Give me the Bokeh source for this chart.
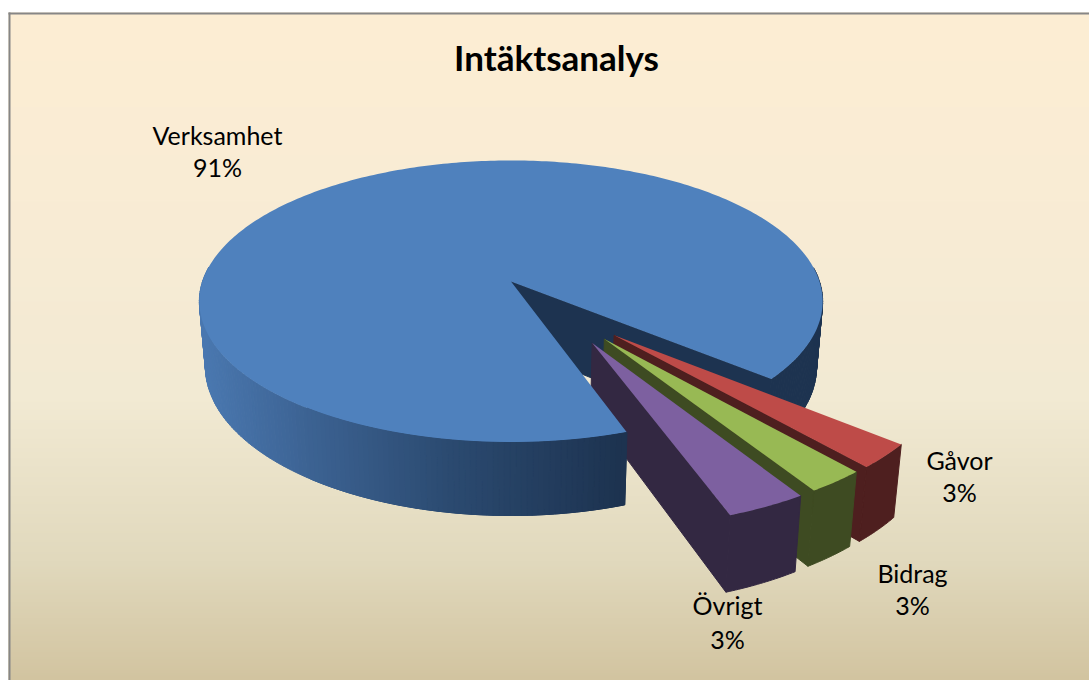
import numpy as np
from bokeh.plotting import figure
from bokeh.models import Range1d
from bokeh.core.properties import value
from bokeh.embed import file_html
from bokeh.resources import INLINE

# ---- data ----
title = "Intäktsanalys"
exploded_names = ["Gåvor", "Bidrag", "Övrigt"]
exploded_shares = [2.64, 2.53, 3.47]
main_name = "Verksamhet"
main_share = 91.36
percent_labels = {"Gåvor": "3%", "Bidrag": "3%", "Övrigt": "3%", "Verksamhet": "91%"}

# ---- styles ----
top_colors = ["#BE4B48", "#98B954", "#7D60A0"]
wall_colors = ["#4E1F1F", "#3E4B22", "#332842"]
main_top = "#4F81BD"
main_dark = "#1D3350"
FONT = "Lato"

# ---- projection (perspective view of a unit disc) ----
CX, K = 510.5, 0.1418
TOP = dict(y0=281.0, a=308.5, b=138.2)
LOW = dict(y0=345.0, a=302.5, b=145.9)
START = 39.9
EXPLODE = 0.486
EXPL_MID = 54.0

def proj(X, Y, pl):
    X, Y = np.asarray(X, float), np.asarray(Y, float)
    w = 1 - K * Y
    return CX + pl["a"] * X / w, pl["y0"] + pl["b"] * Y / w

def rim(a0, a1, n=160):
    t = np.radians(np.linspace(a0, a1, n))
    return np.cos(t), np.sin(t)

def lerp_color(x, stops):
    xs = [s[0] for s in stops]
    r = np.interp(x, xs, [s[1][0] for s in stops])
    g = np.interp(x, xs, [s[1][1] for s in stops])
    b = np.interp(x, xs, [s[1][2] for s in stops])
    return "#%02x%02x%02x" % (int(r), int(g), int(b))

p = figure(width=1089, height=680, output_backend="svg", toolbar_location=None,
           x_range=Range1d(0, 1089), y_range=Range1d(680, 0), min_border=0,
           background_fill_color="white", border_fill_color="white")
p.axis.visible = False
p.grid.visible = False
p.outline_line_color = None

# ---- background gradient ----
bg_stops = [(12, (253, 238, 211)), (200, (249, 236, 213)), (400, (242, 234, 211)),
            (560, (225, 217, 189)), (680, (210, 196, 160))]
rows = np.arange(12, 680)
p.quad(left=8, right=1089, top=rows, bottom=rows + 1.6,
       fill_color=[lerp_color(r, bg_stops) for r in rows], line_color=None)
p.quad(left=[8, 8], right=[10, 1089], top=[12, 12], bottom=[680, 14],
       fill_color="#868686", line_color=None)

# ---- angles from shares ----
edges = START + np.cumsum([0] + exploded_shares) * 3.6
main_a0, main_a1 = edges[-1], START + 360
assert abs(sum(exploded_shares) + main_share - 100) < 1e-6

# ---- main slice: gap wall, outer wall ----
xr, yr = np.cos(np.radians(START)), np.sin(np.radians(START))
xt, yt = proj([0, xr], [0, yr], TOP)
xl, yl = proj([0, xr], [0, yr], LOW)
p.patch(list(xt) + list(xl[::-1]), list(yt) + list(yl[::-1]), fill_color=main_dark, line_color=main_dark)

wall_stops = [(205, (74, 120, 176)), (300, (62, 101, 150)), (450, (44, 75, 113)),
              (625, (29, 51, 80)), (830, (29, 51, 80))]
X, Y = rim(main_a0, main_a1, 361)
xa, ya = proj(X, Y, TOP)
xb, yb = proj(X, Y, LOW)
qx, qy, qc = [], [], []
for i in range(len(X) - 1):
    if Y[i] < -0.1 and Y[i + 1] < -0.1:
        continue
    qx.append([xa[i], xa[i + 1], xb[i + 1], xb[i]])
    qy.append([ya[i], ya[i + 1], yb[i + 1], yb[i]])
    qc.append(lerp_color((xa[i] + xb[i]) / 2, wall_stops))
p.patches(qx, qy, fill_color=qc, line_color=qc, line_width=1)

# ---- exploded slices ----
for i in range(3):
    a0, a1 = edges[i], edges[i + 1]
    mid = (a0 + a1) / 2
    d = np.radians(EXPL_MID + 0.5 * (mid - EXPL_MID))
    sx, sy = EXPLODE * np.cos(d), EXPLODE * np.sin(d)
    X, Y = rim(a0, a1, 24)
    xa, ya = proj(X + sx, Y + sy, TOP)
    xb, yb = proj(X + sx, Y + sy, LOW)
    # outer wall
    p.patch(list(xa) + list(xb[::-1]), list(ya) + list(yb[::-1]),
            fill_color=wall_colors[i], line_color=wall_colors[i])
    # side wall
    tx0, ty0 = proj([sx], [sy], TOP)
    tx1, ty1 = proj([sx], [sy], LOW)
    p.patch([tx0[0], xa[-1], xb[-1], tx1[0]], [ty0[0], ya[-1], yb[-1], ty1[0]],
            fill_color=wall_colors[i], line_color=wall_colors[i])
    # top
    p.patch([tx0[0]] + list(xa), [ty0[0]] + list(ya), fill_color=top_colors[i], line_color=None)

# ---- main slice top, above the wedges ----
X, Y = rim(main_a0, main_a1, 361)
xa, ya = proj(X, Y, TOP)
tx, ty = proj([0], [0], TOP)
p.patch([tx[0]] + list(xa), [ty[0]] + list(ya), fill_color=main_top, line_color=None)
# front corner of the main slice's outer wall stays above the purple wedge
p.patches(qx[:60], qy[:60], fill_color=qc[:60], line_color=qc[:60], line_width=1)

# ---- texts ----
p.text([556], [56], text=[title], text_font=value(FONT), text_font_style="bold",
       text_font_size="35px", text_align="center", text_baseline="middle", text_color="black")
label_pos = {"Verksamhet": (217, 134, 166), "Gåvor": (959, 459, 491),
             "Bidrag": (912, 572, 604), "Övrigt": (727, 604, 638)}
for name, (lx, y1, y2) in label_pos.items():
    p.text([lx, lx], [y1, y2], text=[name, percent_labels[name]], text_font=value(FONT),
           text_font_size="25px", text_align="center", text_baseline="middle", text_color="black")

open("out.html", "w").write(file_html(p, INLINE))
